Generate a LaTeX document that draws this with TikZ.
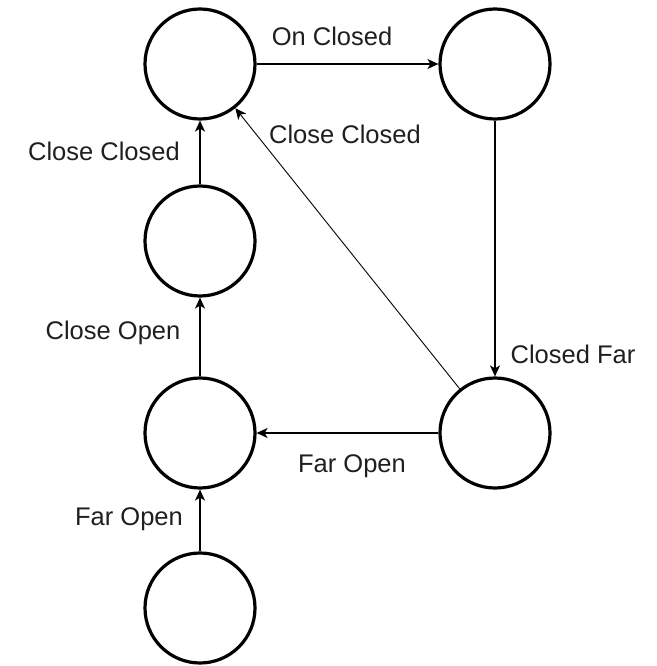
\documentclass[tikz,border=0pt]{standalone}
\usepackage{fontspec}
\setmainfont{Liberation Sans}
\usetikzlibrary{arrows.meta}
\begin{document}
\begin{tikzpicture}[x=1pt,y=-1pt,
  state/.style={circle,draw,line width=3.2pt,inner sep=0pt,minimum size=110pt},
  edge/.style={line width=1.4pt,-{Stealth[length=11pt,width=10pt,inset=3pt]}},
  thinedge/.style={line width=0.9pt,-{Stealth[length=11pt,width=10pt,inset=3pt]}},
  lbl/.style={font=\fontsize{25.5}{29}\selectfont,text=black!88,inner sep=0pt}]
  \useasboundingbox (0,0) rectangle (656,666);

  % states
  \node[state] (tl) at (200,64) {};
  \node[state] (tr) at (495,64) {};
  \node[state] (ml) at (200,241) {};
  \node[state] (ll) at (200,433) {};
  \node[state] (br) at (495,433) {};
  \node[state] (bt) at (200,608) {};

  % transitions
  \draw[edge] (tl) -- (tr);
  \draw[edge] (tr) -- (br);
  \draw[edge] (br) -- (ll);
  \draw[edge] (bt) -- (ll);
  \draw[edge] (ll) -- (ml);
  \draw[edge] (ml) -- (tl);
  \draw[thinedge] (br) -- (tl);

  % labels
  \node[lbl] (l1) at (332,36) {On Closed};
  \node[lbl] (l2) at (345,134) {Close Closed};
  \node[lbl] (l3) at (104,151) {Close Closed};
  \node[lbl] (l4) at (113,333) {Close Open};
  \node[lbl] (l5) at (573,354) {Closed Far};
  \node[lbl] (l6) at (352,466) {Far Open};
  \node[lbl] (l7) at (129,519) {Far Open};
\end{tikzpicture}
\end{document}
